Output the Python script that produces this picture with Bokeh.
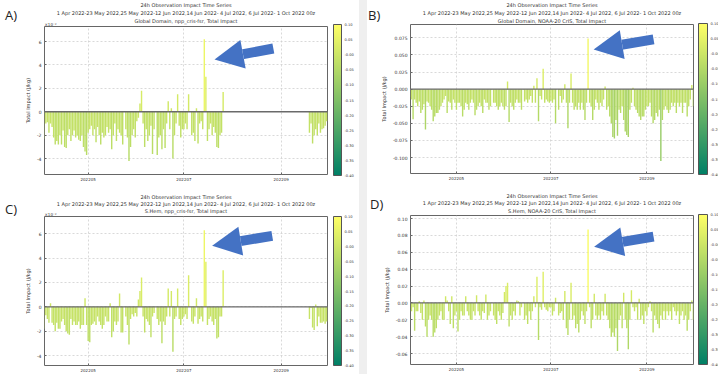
import numpy as np
import pandas as pd
from bokeh.plotting import figure
from bokeh.models import (ColumnDataSource, LinearColorMapper, ColorBar, FixedTicker, Title,
                          Span, Arrow, NormalHead, Range1d, PrintfTickFormatter,
                          DatetimeTickFormatter, Spacer, Div)
from bokeh.layouts import row, column
from bokeh.transform import linear_cmap
from bokeh.embed import file_html
from bokeh.resources import INLINE

# ---------------- text ----------------
title_line1 = "24h Observation Impact Time Series"
title_line2 = ("1 Apr 2022-23 May 2022,25 May 2022-12 Jun 2022,14 Jun 2022- 4 Jul 2022, "
               "6 Jul 2022- 1 Oct 2022 00z")
subtitle_a = "Global Domain, npp_cris-fsr, Total Impact"
subtitle_b = "Global Domain, NOAA-20 CrIS, Total Impact"
subtitle_c = "S.Hem, npp_cris-fsr, Total Impact"
subtitle_d = "S.Hem, NOAA-20 CrIS, Total Impact"
y_label = "Total Impact (J/kg)"
sci_label = "×10⁻²"
month_ticks = ["2022-05-01", "2022-07-01", "2022-09-01"]
colorbar_ticks = [-0.40, -0.35, -0.30, -0.25, -0.20, -0.15, -0.10, -0.05, 0.0, 0.05, 0.10]

# ---------------- data ----------------
# A : Global, npp_cris-fsr (x1e-2 J/kg), daily from 2022-04-03
start_a = "2022-04-03"
impact_a_early = [
    -2.3, -1.0, -0.9, -1.8, -1.0, -1.3, -2.2, -2.8, -2.5, -2.8,
    -2.0, -2.8, -1.6, -3.0, -3.1, -2.0, -1.5, -2.5, -2.0, -1.6,
    -2.2, -2.0, -2.4, -2.5, -2.0, -3.0, -3.4, -3.7, -1.8, -1.5,
    -1.2, -2.0, -1.5, -2.6, -1.3, -2.0, -2.8, -1.8, -2.2, -2.0,
    -1.3, -1.8, -1.5, -3.2, -2.0, -1.0, -2.5, -1.5, -1.8, -2.0,
    -2.8, None, -1.5, -2.2, -4.2, -3.0, -2.0, -1.5, -2.2, -0.8,
    -0.5, 0.7, 1.8, -1.0, -3.0, -1.5, -2.5, -2.0, -1.2, -3.6,
    -1.5, None, -3.7, -2.2, -2.0, -3.2, -1.5, -3.1, -1.0, 0.9,
    -1.5, 0.3, -4.0, -2.0, -1.0, 1.5, -1.2, -2.2, -1.5, -1.5,
    -1.0, -1.5, 1.5, None, -2.0, -1.8, -2.5, 0.3, -2.7, -1.0,
    -0.8, -1.5, 6.2, 3.0, -2.5, -1.5, -1.0, -2.0, -1.3, -1.8,
    -3.0, -3.1, -2.0, -1.8, 1.7]
missing_days_a = 54
impact_a_late = [-1.8, -1.0, -2.7, -2.0, -1.5, -2.0, -1.0, -1.8, -1.5, -1.4, -1.2, -0.8]

# C : S.Hem, npp_cris-fsr (x1e-2 J/kg), daily from 2022-04-03
start_c = "2022-04-03"
impact_c_early = [
    -1.8, -0.7, -1.0, -1.3, 0.3, -1.3, -1.5, -2.0, -1.3, -1.8,
    -1.8, -1.2, -1.0, -1.5, -2.0, -2.2, -2.3, -1.0, -1.5, -1.2,
    -1.5, -1.5, -1.2, -1.8, -1.5, -1.5, 0.7, -1.5, -2.8, -2.9,
    -1.5, -1.4, -1.2, -1.5, -0.8, -1.2, -1.5, -1.8, -1.5, -0.8,
    -1.2, -1.2, 0.3, -2.5, -2.0, -1.2, -1.5, -1.2, 1.1, -2.1,
    -2.1, None, -0.8, -1.5, -3.1, -1.0, -0.6, -0.8, -0.5, -0.8,
    0.6, 1.3, 2.4, -0.8, -2.1, -1.0, -1.2, -1.5, -2.5, -0.8,
    -0.5, None, -1.0, -1.5, -1.2, -3.0, -1.2, -1.5, -0.8, 1.5,
    -0.8, 1.3, -3.7, -1.0, -0.8, 1.5, -1.0, -1.5, -1.0, -0.8,
    -0.6, -1.0, 2.6, None, -1.2, -1.4, -0.8, 0.7, -1.4, -1.0,
    -0.8, -1.2, 6.3, 3.7, -1.5, -1.0, -0.8, -1.2, -1.5, -1.0,
    -2.6, -2.5, -0.8, -0.8, 3.0]
missing_days_c = 54
impact_c_late = [-1.0, -0.1, -1.7, -1.9, 0.2, -1.6, -0.8, -1.3, -1.3, -1.2, -1.4, -1.2]

# B : Global, NOAA-20 CrIS (J/kg), daily from 2022-04-01
start_b = "2022-04-01"
impact_b = [
    -0.012, -0.015, -0.044, -0.015, -0.02, -0.025, -0.018, -0.035, -0.03, -0.022,
    -0.059, -0.018, -0.02, -0.025, -0.03, -0.047, -0.04, -0.035, -0.035, -0.03,
    -0.025, -0.02, -0.015, -0.01, -0.035, -0.018, -0.02, -0.03, -0.015, -0.02,
    -0.03, -0.02, -0.02, -0.025, -0.04, -0.03, -0.02, -0.022, -0.03, -0.02,
    -0.015, -0.02, -0.038, -0.03, -0.025, -0.02, -0.025, -0.035, -0.015, -0.02,
    -0.02, -0.03, -0.025, None, -0.02, -0.02, -0.025, -0.03, -0.025, -0.02,
    -0.025, -0.03, -0.025, 0.011, -0.048, -0.02, -0.025, -0.03, -0.02, -0.015,
    -0.02, -0.02, -0.03, None, -0.018, -0.015, -0.02, -0.015, -0.01, -0.02,
    0.005, -0.02, 0.016, -0.047, -0.01, -0.015, 0.03, -0.02, -0.015, -0.018,
    -0.02, -0.017, -0.02, -0.015, -0.05, None, -0.03, -0.01, -0.02, -0.015,
    0.007, -0.02, -0.057, -0.02, 0.023, -0.02, -0.03, -0.025, -0.03, -0.02,
    -0.03, -0.02, -0.03, -0.045, -0.02, 0.074, -0.02, -0.025, -0.045, -0.03,
    -0.015, -0.02, -0.03, -0.02, -0.025, -0.015, 0.004, -0.03, -0.025, -0.04,
    -0.05, -0.07, -0.072, -0.045, -0.068, -0.03, -0.035, -0.025, -0.045, -0.062,
    -0.067, -0.07, -0.03, -0.02, 0.002, -0.025, -0.03, -0.035, -0.04, -0.045,
    -0.04, -0.04, -0.03, -0.025, -0.025, -0.02, -0.04, -0.05, -0.045, -0.035,
    -0.04, -0.03, -0.105, -0.045, -0.03, -0.025, -0.03, -0.035, -0.03, -0.02,
    -0.025, -0.02, -0.035, -0.02, -0.025, -0.02, -0.035, -0.02, -0.02, -0.04,
    -0.025, -0.015, 0.006, -0.025]

# D : S.Hem, NOAA-20 CrIS (J/kg), daily from 2022-04-01
start_d = "2022-04-01"
impact_d = [
    0.008, -0.01, -0.005, -0.033, -0.01, -0.01, 0.002, -0.012, -0.02, 0.003,
    -0.028, -0.04, -0.02, -0.015, -0.02, -0.04, -0.035, -0.03, -0.02, -0.015,
    -0.01, -0.02, -0.02, 0.008, 0.003, -0.01, -0.025, 0.008, -0.03, -0.015,
    -0.01, -0.034, -0.02, -0.01, -0.015, -0.015, 0.008, -0.01, -0.015, -0.02,
    -0.02, -0.01, -0.015, 0.009, -0.01, -0.015, -0.02, -0.01, -0.012, 0.01,
    -0.02, -0.015, -0.01, None, -0.015, -0.02, -0.025, -0.01, -0.015, -0.02,
    -0.012, 0.013, 0.02, 0.024, -0.028, -0.015, -0.02, -0.01, -0.015, 0.003,
    0.002, -0.015, -0.005, None, -0.02, -0.015, -0.025, -0.01, -0.02, -0.01,
    0.008, -0.005, 0.031, -0.044, -0.005, -0.008, 0.037, -0.005, -0.008, -0.01,
    -0.005, -0.005, -0.015, -0.01, 0.006, None, -0.015, -0.012, -0.01, -0.02,
    0.014, -0.03, -0.038, -0.02, 0.024, -0.02, -0.015, -0.03, -0.025, -0.035,
    -0.02, -0.01, -0.015, -0.025, -0.01, 0.087, -0.005, -0.03, -0.02, 0.011,
    -0.015, -0.02, -0.015, -0.02, -0.01, -0.015, 0.011, -0.015, -0.02, -0.03,
    -0.04, -0.035, -0.04, -0.03, -0.057, -0.02, -0.015, -0.03, 0.012, -0.02,
    -0.03, -0.055, -0.02, 0.015, -0.005, -0.01, -0.005, -0.02, 0.005, -0.02,
    -0.015, -0.025, -0.01, -0.015, -0.005, 0.002, -0.01, -0.035, -0.015, -0.02,
    -0.025, -0.03, -0.015, -0.02, -0.01, -0.02, -0.01, -0.015, -0.01, -0.02,
    -0.005, -0.01, -0.015, -0.01, -0.025, -0.015, -0.01, -0.02, -0.015, -0.033,
    -0.02, -0.01, 0.003, -0.02]

# ---------------- styles ----------------
BLUE = "#4472C4"
TXT = "#333333"
summer = ["#%02x%02x%02x" % (int(round(255 * t)), int(round(255 * (0.5 + 0.5 * t))), 102)
          for t in np.linspace(0, 1, 256)]
MS_DAY = 86400000.0


def ms(ts):
    return pd.Timestamp(ts).value / 1e6


def make_title(text, size, align="center", standoff=0.0, valign="middle"):
    return Title(text=text, align=align, vertical_align=valign, text_font="DejaVu Sans",
                 text_font_size=size, text_font_style="normal", text_line_height=1.0,
                 text_color=TXT, standoff=standoff)


def make_panel(cfg):
    vals = cfg["values"]
    dates = pd.date_range(cfg["start"], periods=len(vals), freq="D")
    v = np.array([np.nan if x is None else x for x in vals], dtype=float)
    src = ColumnDataSource(dict(date=dates, top=v, cval=v * cfg["scale"]))
    fw, fh = cfg["frame_w"], cfg["frame_h"]
    p = figure(width=cfg["left"] + fw + cfg["right"], height=cfg["top"] + fh + cfg["bottom"],
               frame_width=fw, frame_height=fh,
               x_axis_type="datetime",
               x_range=Range1d(ms(cfg["x_lo"]), ms(cfg["x_hi"])),
               y_range=Range1d(cfg["y_lo"], cfg["y_hi"]),
               toolbar_location=None, output_backend="svg",
               min_border_left=cfg["left"], min_border_right=cfg["right"],
               min_border_top=cfg["top"], min_border_bottom=cfg["bottom"])
    p.background_fill_color = "white"
    p.border_fill_color = None
    p.outline_line_color = "#666666"
    p.outline_line_width = 1

    mapper = LinearColorMapper(palette=summer, low=-0.40, high=0.10)
    p.vbar(x="date", top="top", bottom=0, width=0.9 * MS_DAY, source=src,
           fill_color=linear_cmap("cval", summer, -0.40, 0.10),
           line_color=None)

    p.add_layout(Span(location=0, dimension="width", line_color="#6a6a6a", line_width=1.4))

    # axes
    p.xaxis.ticker = FixedTicker(ticks=[ms(t) for t in month_ticks])
    p.xaxis.formatter = DatetimeTickFormatter(days="%Y%m", months="%Y%m", years="%Y%m",
                                              hours="%Y%m", minutes="%Y%m")
    p.yaxis.ticker = FixedTicker(ticks=cfg["yticks"])
    p.yaxis.formatter = PrintfTickFormatter(format=cfg["yfmt"])
    p.yaxis.axis_label = y_label
    p.yaxis.axis_label_text_font_size = "5px"
    p.yaxis.axis_label_text_font_style = "normal"
    p.yaxis.axis_label_text_font = "DejaVu Sans"
    p.yaxis.axis_label_text_color = TXT
    p.yaxis.axis_label_standoff = 3
    p.axis.axis_line_color = None
    p.axis.major_tick_line_color = "#666666"
    p.axis.major_tick_in = 2
    p.axis.major_tick_out = 0
    p.axis.minor_tick_line_color = None
    p.axis.major_label_text_font = "DejaVu Sans"
    p.axis.major_label_text_color = TXT
    p.yaxis.major_label_text_font_size = "4.5px"
    p.xaxis.major_label_text_font_size = "4px"
    p.axis.major_label_standoff = 3
    p.grid.grid_line_color = "#cfcfcf"
    p.grid.grid_line_dash = "2 2"
    p.grid.grid_line_width = 0.8

    # colour bar
    cb = ColorBar(color_mapper=mapper, ticker=FixedTicker(ticks=colorbar_ticks),
                  formatter=PrintfTickFormatter(format="%.2f"),
                  major_label_overrides={0: "-0.00"},
                  width=cfg["cb_w"], height=cfg["cb_h"],
                  location=(fw + cfg["cb_gap"], cfg["cb_y"]),
                  margin=0, padding=0, bar_line_color="#555555",
                  major_tick_line_color=None, label_standoff=3,
                  major_label_text_font_size="3.6px", major_label_text_color=TXT,
                  major_label_text_font="DejaVu Sans",
                  background_fill_alpha=0, border_line_color=None)
    p.add_layout(cb)

    # titles: the first added sits next to the frame
    if cfg["sci"]:
        p.add_layout(make_title(sci_label, "4px", align="left", standoff=-5, valign="top"),
                     "above")
    s = cfg["title_s"]
    p.add_layout(make_title(cfg["subtitle"], "5px", standoff=cfg["title_s1"]), "above")
    p.add_layout(make_title(title_line2, "5px", standoff=s), "above")
    p.add_layout(make_title(title_line1, "5px", standoff=s), "above")

    (tx, ty), (hx, hy) = cfg["arrow"]
    p.add_layout(Arrow(end=NormalHead(size=29, fill_color=BLUE, line_color=BLUE, line_width=0),
                       x_start=ms(tx), y_start=ty, x_end=ms(hx), y_end=hy,
                       line_color=BLUE, line_width=10))
    return p


def letter_div(text, width, height, top_gap, left_gap):
    return Div(text=('<div style="margin-top:%dpx;margin-left:%dpx;width:4px;overflow:visible;'
                     'font-family:\'Open Sans\';font-size:13px;line-height:15px;'
                     'color:#222222;white-space:nowrap;">%s</div>'
                     % (top_gap, left_gap, text)),
               width=width, height=height, margin=0,
               styles={"overflow": "visible"})


cfg_a = dict(subtitle=subtitle_a, start=start_a,
             values=impact_a_early + [None] * missing_days_a + impact_a_late, scale=0.01,
             x_lo="2022-04-03 04:00", x_hi="2022-09-30 12:00", y_lo=-5.36, y_hi=7.29,
             yticks=[-4, -2, 0, 2, 4, 6], yfmt="%d", sci=True, title_s=-0.2, title_s1=-0.2,
             left=22, right=32, top=24, bottom=12, frame_w=283, frame_h=148,
             cb_gap=6, cb_w=8, cb_y=-1, cb_h=151,
             arrow=(("2022-08-27", 5.41), ("2022-07-20 12:00", 4.47)))
cfg_b = dict(subtitle=subtitle_b, start=start_b, values=impact_b, scale=1.0,
             x_lo="2022-04-01 08:00", x_hi="2022-10-01 02:00", y_lo=-0.1233, y_hi=0.0945,
             yticks=[-0.1, -0.075, -0.05, -0.025, 0.0, 0.025, 0.05, 0.075], yfmt="%.3f",
             sci=False, title_s=-0.5, title_s1=-0.5,
             left=37, right=25, top=23, bottom=12, frame_w=283, frame_h=149,
             cb_gap=5, cb_w=9, cb_y=-1, cb_h=151,
             arrow=(("2022-09-05 07:00", 0.0727), ("2022-07-28 14:00", 0.058)))
cfg_c = dict(subtitle=subtitle_c, start=start_c,
             values=impact_c_early + [None] * missing_days_c + impact_c_late, scale=0.01,
             x_lo="2022-04-03 04:00", x_hi="2022-09-30 12:00", y_lo=-4.82, y_hi=7.42,
             yticks=[-4, -2, 0, 2, 4, 6], yfmt="%d", sci=True, title_s=-0.7, title_s1=-0.7,
             left=22, right=32, top=30, bottom=11, frame_w=283, frame_h=149,
             cb_gap=6, cb_w=8, cb_y=0, cb_h=149,
             arrow=(("2022-08-26 07:00", 5.83), ("2022-07-19", 5.01)))
cfg_d = dict(subtitle=subtitle_d, start=start_d, values=impact_d, scale=1.0,
             x_lo="2022-04-01 08:00", x_hi="2022-10-01 02:00", y_lo=-0.073, y_hi=0.1036,
             yticks=[-0.06, -0.04, -0.02, 0.0, 0.02, 0.04, 0.06, 0.08, 0.10], yfmt="%.2f",
             sci=False, title_s=-0.7, title_s1=0.8,
             left=37, right=25, top=30, bottom=11, frame_w=283, frame_h=149,
             cb_gap=5, cb_w=9, cb_y=0, cb_h=150,
             arrow=(("2022-09-05 07:00", 0.0786), ("2022-07-28 22:00", 0.0667)))

pa = make_panel(cfg_a)
pb = make_panel(cfg_b)
pc = make_panel(cfg_c)
pd_ = make_panel(cfg_d)

letters_left = column(letter_div("A)", 22, 184, 8, 5), letter_div("C)", 22, 190, 18, 5))
letters_right = column(letter_div("B)", 6, 184, 8, 1), letter_div("D)", 6, 190, 13, 3))
strip = Spacer(width=8, height=374, margin=0, styles={"background-color": "#efefef"})
layout = row(letters_left, column(pa, pc), strip, letters_right, column(pb, pd_))

open("out.html", "w").write(file_html(layout, INLINE))
